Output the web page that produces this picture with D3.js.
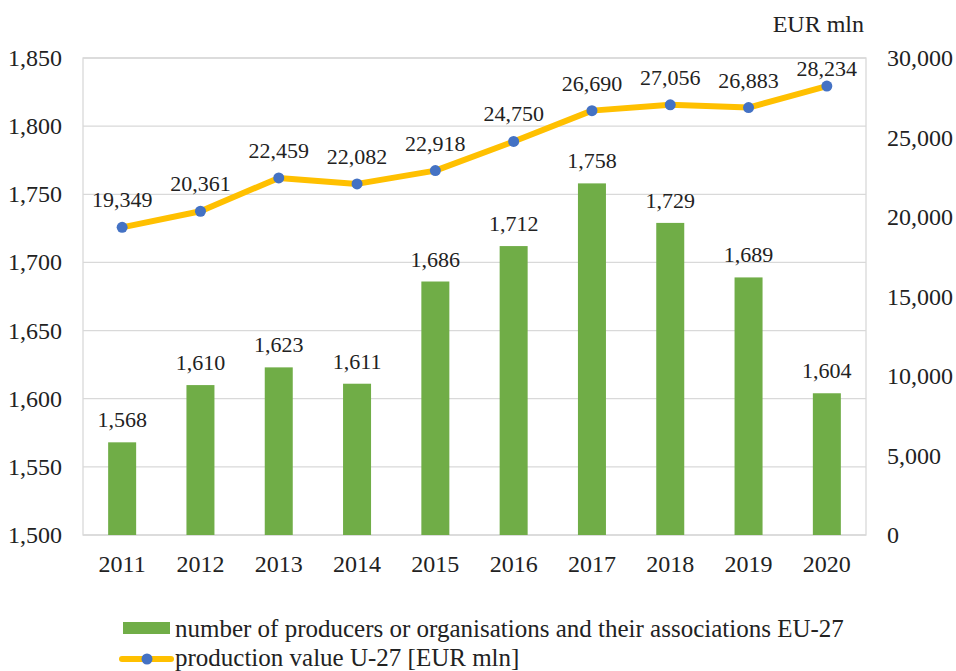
<!DOCTYPE html>
<html>
<head>
<meta charset="utf-8">
<script src="https://cdn.jsdelivr.net/npm/d3@7"></script>
<style>
  body { margin: 0; background: #fff; }
  text { font-family: "Liberation Serif", "Times New Roman", serif; fill: #222; }
</style>
</head>
<body>
<div id="chart"></div>
<script>
var years = ["2011", "2012", "2013", "2014", "2015", "2016", "2017", "2018", "2019", "2020"];
var producers = [1568, 1610, 1623, 1611, 1686, 1712, 1758, 1729, 1689, 1604];
var prodValue = [19349, 20361, 22459, 22082, 22918, 24750, 26690, 27056, 26883, 28234];
var leftTicks = [1500, 1550, 1600, 1650, 1700, 1750, 1800, 1850];
var rightTicks = [0, 5000, 10000, 15000, 20000, 25000, 30000];
var legendLabels = ["number of producers or organisations and their associations EU-27",
  "production value U-27 [EUR mln]"];

var width = 956, height = 671;
var pLeft = 83, pRight = 866, pTop = 58, pBottom = 535;
var fmt = d3.format(",");

var svg = d3.select("#chart").append("svg")
  .attr("width", width)
  .attr("height", height)

var x = d3.scaleBand().domain(years).range([pLeft, pRight]);
var yL = d3.scaleLinear().domain([1500, 1850]).range([pBottom, pTop]);
var yR = d3.scaleLinear().domain([0, 30000]).range([pBottom, pTop]);

// gridlines
svg.append("g").selectAll("line")
  .data(leftTicks)
  .enter().append("line")
  .attr("x1", pLeft).attr("x2", pRight)
  .attr("y1", d => yL(d)).attr("y2", d => yL(d))
  .attr("stroke", "#d9d9d9").attr("stroke-width", 1.3);

// plot border
svg.append("rect")
  .attr("x", pLeft).attr("y", pTop)
  .attr("width", pRight - pLeft).attr("height", pBottom - pTop)
  .attr("fill", "none").attr("stroke", "#d9d9d9").attr("stroke-width", 1.3);

// left axis
svg.append("g").selectAll("text")
  .data(leftTicks)
  .enter().append("text")
  .attr("x", 62).attr("y", d => yL(d) + 8)
  .attr("text-anchor", "end")
  .attr("font-size", 24)
  .text(d => fmt(d));

// right axis
svg.append("g").selectAll("text")
  .data(rightTicks)
  .enter().append("text")
  .attr("x", 887).attr("y", d => yR(d) + 8)
  .attr("font-size", 24)
  .text(d => fmt(d));

svg.append("text")
  .attr("x", 864).attr("y", 32)
  .attr("text-anchor", "end")
  .attr("font-size", 24)
  .text("EUR mln");

// x labels
svg.append("g").selectAll("text")
  .data(years)
  .enter().append("text")
  .attr("x", d => x(d) + x.bandwidth() / 2).attr("y", 572)
  .attr("text-anchor", "middle")
  .attr("font-size", 24)
  .text(d => d);

// bars
var barW = 28;
svg.append("g").selectAll("rect")
  .data(years)
  .enter().append("rect")
  .attr("x", d => x(d) + x.bandwidth() / 2 - barW / 2)
  .attr("y", (d, i) => yL(producers[i]))
  .attr("width", barW)
  .attr("height", (d, i) => pBottom - yL(producers[i]))
  .attr("fill", "#70ad47");

svg.append("g").selectAll("text")
  .data(years)
  .enter().append("text")
  .attr("x", d => x(d) + x.bandwidth() / 2)
  .attr("y", (d, i) => yL(producers[i]) - 15)
  .attr("text-anchor", "middle")
  .attr("font-size", 22)
  .text((d, i) => fmt(producers[i]));

// line
var line = d3.line()
  .x((d, i) => x(years[i]) + x.bandwidth() / 2)
  .y(d => yR(d));

svg.append("path")
  .datum(prodValue)
  .attr("d", line)
  .attr("fill", "none")
  .attr("stroke", "#ffc000")
  .attr("stroke-width", 6)
  .attr("stroke-linejoin", "round");

svg.append("g").selectAll("circle")
  .data(prodValue)
  .enter().append("circle")
  .attr("cx", (d, i) => x(years[i]) + x.bandwidth() / 2)
  .attr("cy", d => yR(d))
  .attr("r", 5.5)
  .attr("fill", "#4472c4");

// keep labels from sticking out over the top of the plot
svg.append("g").selectAll("text")
  .data(prodValue)
  .enter().append("text")
  .attr("x", (d, i) => x(years[i]) + x.bandwidth() / 2)
  .attr("y", d => Math.max(yR(d) - 20, pTop + 18))
  .attr("text-anchor", "middle")
  .attr("font-size", 22)
  .text(d => fmt(d));

// legend
var lg = svg.append("g");
lg.append("rect")
  .attr("x", 123).attr("y", 622)
  .attr("width", 47).attr("height", 12)
  .attr("fill", "#70ad47");
lg.append("text")
  .attr("x", 175).attr("y", 637)
  .attr("font-size", 25)
  .text(legendLabels[0]);
lg.append("line")
  .attr("x1", 122).attr("x2", 171)
  .attr("y1", 659).attr("y2", 659)
  .attr("stroke", "#ffc000").attr("stroke-width", 6)
  .attr("stroke-linecap", "round");
lg.append("circle")
  .attr("cx", 147).attr("cy", 659).attr("r", 5.5)
  .attr("fill", "#4472c4");
lg.append("text")
  .attr("x", 175).attr("y", 666)
  .attr("font-size", 25)
  .text(legendLabels[1]);
</script>
</body>
</html>
